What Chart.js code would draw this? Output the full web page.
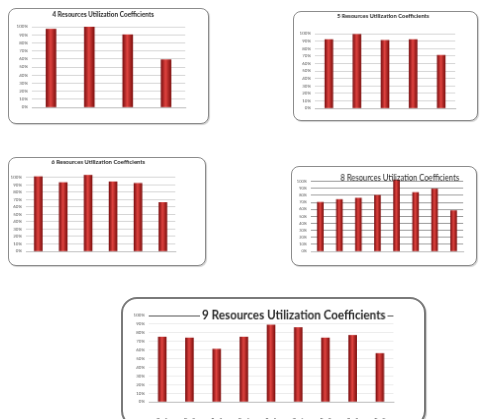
<!DOCTYPE html>
<html>
<head>
<meta charset="utf-8">
<script src="https://cdn.jsdelivr.net/npm/chart.js@4/dist/chart.umd.min.js"></script>
<style>
  body { margin: 0; background: #fff; width: 485px; height: 419px; overflow: hidden; position: relative; }
  canvas { position: absolute; background: #fff; border: 1px solid #8c8c8c; border-radius: 8px; box-shadow: 1px 1px 1px rgba(0,0,0,0.2); }
  #c9 { border: 2px solid #7a7a7a; border-radius: 16px; }
</style>
</head>
<body>
<canvas id="c4" width="201" height="116" style="left:8px;top:8px"></canvas>
<canvas id="c5" width="185" height="110" style="left:293px;top:11px"></canvas>
<canvas id="c6" width="198" height="109" style="left:8px;top:157px"></canvas>
<canvas id="c8" width="186" height="100" style="left:291px;top:166px"></canvas>
<canvas id="c9" width="305" height="130" style="left:121px;top:297px"></canvas>
<script>
// values (1 = 100%)
const pctTicks = [0, 0.1, 0.2, 0.3, 0.4, 0.5, 0.6, 0.7, 0.8, 0.9, 1.0];

const labels4 = ["Resource 1", "Resource 2", "Resource 3", "Resource 4"];
const util4 = [0.97, 1.00, 0.90, 0.59];

const labels5 = ["Resource 1", "Resource 2", "Resource 3", "Resource 4", "Resource 5"];
const util5 = [0.92, 0.99, 0.91, 0.92, 0.71];

const labels6 = ["Resource 1", "Resource 2", "Resource 3", "Resource 4", "Resource 5", "Resource 6"];
const util6 = [1.01, 0.93, 1.03, 0.94, 0.92, 0.66];

const labels8 = ["Res 1", "Res 2", "Res 3", "Res 4", "Res 5", "Res 6", "Res 7", "Res 8"];
const util8 = [0.70, 0.74, 0.76, 0.80, 1.02, 0.84, 0.89, 0.58];

const labels9 = ["Res 1", "Res 2", "Res 3", "Res 4", "Res 5", "Res 6", "Res 7", "Res 8", "Res 9"];
const util9 = [0.75, 0.74, 0.61, 0.75, 0.89, 0.86, 0.74, 0.77, 0.56];

// titel zelf tekenen, kan dan ook over het plotvlak heen
const boxTitle = {
    id: "boxTitle",
    afterDraw(chart, args, o) {
        if (!o.text) return;
        const ctx = chart.ctx;
        ctx.save();
        ctx.font = (o.weight || "bold") + " " + o.size + "px " + o.family;
        ctx.textAlign = "center";
        ctx.textBaseline = o.baseline || "middle";
        if (o.bg) {
            ctx.fillStyle = "#fff";
            ctx.fillRect(o.x - o.width / 2 - 2, o.y - o.size / 2, o.width + 4, o.size);
        }
        ctx.fillStyle = o.color || "#222";
        ctx.fillText(o.text, o.x, o.y, o.width);
        ctx.restore();
    }
};

function pctChart(id, labels, values, o) {
    const canvas = document.getElementById(id);
    const W = canvas.width, H = canvas.height;
    const barW = o.barW;

    return new Chart(canvas, {
        type: "bar",
        data: {
            labels: labels,
            datasets: [{
                data: values,
                barThickness: barW,
                borderWidth: 0,
                backgroundColor: (c) => {
                    const xs = c.chart.scales.x;
                    if (!xs) return "#b81d20";
                    const px = xs.getPixelForValue(c.dataIndex);
                    if (!isFinite(px)) return "#b81d20";
                    const g = c.chart.ctx.createLinearGradient(px - barW / 2, 0, px + barW / 2, 0);
                    g.addColorStop(0, "#7d1012");
                    g.addColorStop(0.45, "#e0433f");
                    g.addColorStop(1, "#80100f");
                    return g;
                }
            }]
        },
        options: {
            responsive: false,
            animation: false,
            layout: {
                padding: {
                    left: o.plot.l - o.yW,
                    right: W - o.plot.r,
                    top: o.plot.t,
                    bottom: H - o.plot.b - o.xH
                }
            },
            plugins: {
                legend: { display: false },
                tooltip: { enabled: false },
                boxTitle: o.title
            },
            scales: {
                x: {
                    grid: { display: false },
                    border: { color: "#bdbdbd" },
                    ticks: {
                        font: { size: o.xFont || 4, family: "Lato", weight: o.xBold ? "bold" : "normal" },
                        color: o.xColor || "#555",
                        padding: o.xPad,
                        maxRotation: 0,
                        autoSkip: false
                    },
                    afterFit: (s) => { s.height = o.xH; }
                },
                y: {
                    min: 0,
                    max: o.yMax,
                    border: { display: false },
                    grid: { color: o.grid, lineWidth: 1, drawTicks: false },
                    ticks: {
                        font: { size: o.yFont || 4.5, family: "Lato" },
                        color: "#555",
                        padding: 4,
                        autoSkip: false,
                        callback: (v) => Math.round(v * 100) + "%"
                    },
                    afterBuildTicks: (s) => { s.ticks = pctTicks.map(v => ({ value: v })); },
                    afterFit: (s) => { s.width = o.yW; }
                }
            }
        },
        plugins: [boxTitle]
    });
}

pctChart("c4", labels4, util4, {
    plot: { l: 23, r: 178, t: 18, b: 100 }, yW: 20, xH: 14, xPad: 6, yMax: 1.0, barW: 10,
    grid: "#d6d6d6",
    title: { text: "4 Resources Utilization Coefficients", size: 6.5, family: "Lato", x: 95, y: 6, width: 109 }
});

pctChart("c5", labels5, util5, {
    plot: { l: 21, r: 163, t: 22, b: 98 }, yW: 18, xH: 12, xPad: 5, yMax: 1.0, barW: 8,
    grid: "#d6d6d6",
    title: { text: "5 Resources Utilization Coefficients", size: 6, family: "Lato", x: 90, y: 4, width: 93 }
});

pctChart("c6", labels6, util6, {
    plot: { l: 17, r: 168, t: 16, b: 95 }, yW: 16, xH: 12, xPad: 5, yMax: 1.05, barW: 8,
    grid: "#d6d6d6",
    title: { text: "6 Resources Utilization Coefficients", size: 6, family: "Lato", x: 90, y: 4, width: 110 }
});

pctChart("c8", labels8, util8, {
    plot: { l: 19, r: 173, t: 11, b: 86 }, yW: 16, xH: 12, xPad: 7, yMax: 1.05, barW: 6, yFont: 4,
    grid: "#9a9a9a", xBold: true, xColor: "#333",
    title: { text: "8 Resources Utilization Coefficients", size: 10, weight: "normal", family: "Lato", x: 109, y: 14, width: 120, color: "#222", baseline: "alphabetic" }
});

pctChart("c9", labels9, util9, {
    plot: { l: 26, r: 274, t: 17, b: 106 }, yW: 22, xH: 20, xPad: 8, yMax: 1.0, barW: 8,
    grid: (c) => c.tick && c.tick.value === 1 ? "#555" : "#ececec",
    xBold: true, xColor: "#222", xFont: 4.5,
    title: { text: "9 Resources Utilization Coefficients", size: 13, family: "Lato", x: 173, y: 17, width: 186, bg: true, color: "#2a2a2a" }
});
</script>
</body>
</html>
